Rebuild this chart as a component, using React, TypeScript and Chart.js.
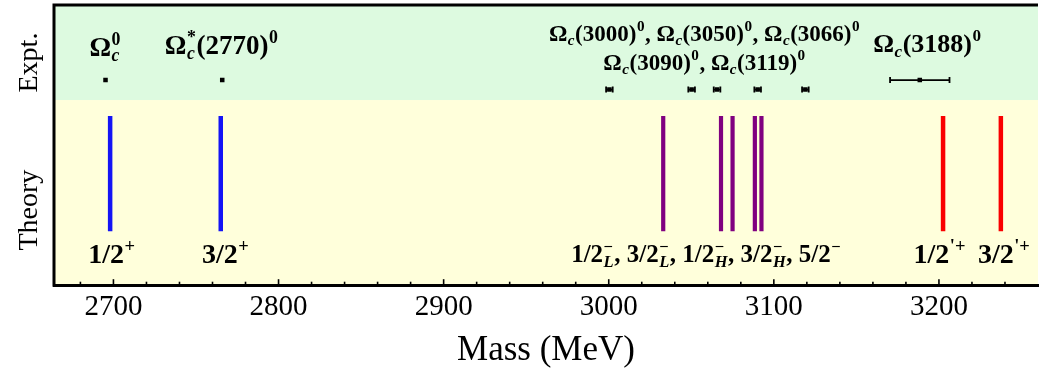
import React, { useEffect, useRef } from 'react';
import { Chart, registerables } from 'chart.js';

Chart.register(...registerables);

// ---------- data ----------
const xMin = 2664;
const xMax = 3260;
const yMin = 0;
const yMax = 28;
const tickValues = [2680, 2700, 2720, 2740, 2760, 2780, 2800, 2820, 2840, 2860, 2880, 2900, 2920, 2940, 2960, 2980, 3000, 3020, 3040, 3060, 3080, 3100, 3120, 3140, 3160, 3180, 3200, 3220, 3240];

// experimental masses (MeV), errors, row level
const exptMass = [2695.2, 2765.9, 3000.4, 3050.2, 3065.6, 3090.2, 3119.1, 3188.4];
const exptErr = [0, 0, 2, 2, 2, 2, 2, 18];
const exptRow = [20.5, 20.5, 19.55, 19.55, 19.55, 19.55, 19.55, 20.5];

// theory masses (MeV)
const theory1S = [2698, 2765];
const theory1P = [3033, 3068, 3075, 3088.5, 3092.5];
const theory2S = [3202.5, 3237.5];
const theoryLow = 5.4;
const theoryHigh = 16.9;
const bandSplit = 18.5;

type Part = { t?: string; sub?: string; sup?: string };
type Label = { x: number; y: number; size: number; parts: Part[] };

const exptLabels: Label[] = [
  { x: 2695, y: 23.8, size: 27, parts: [{ t: 'Ω' }, { sub: 'c', sup: '0' }] },
  { x: 2765.5, y: 24.0, size: 27, parts: [{ t: 'Ω' }, { sub: 'c', sup: '*' }, { t: '(2770)' }, { sup: '0' }] },
  {
    x: 3058, y: 25.2, size: 23,
    parts: [{ t: 'Ω' }, { sub: 'c' }, { t: '(3000)' }, { sup: '0' }, { t: ', Ω' }, { sub: 'c' }, { t: '(3050)' }, { sup: '0' }, { t: ', Ω' }, { sub: 'c' }, { t: '(3066)' }, { sup: '0' }],
  },
  {
    x: 3058, y: 22.3, size: 23,
    parts: [{ t: 'Ω' }, { sub: 'c' }, { t: '(3090)' }, { sup: '0' }, { t: ', Ω' }, { sub: 'c' }, { t: '(3119)' }, { sup: '0' }],
  },
  { x: 3193, y: 24.2, size: 26, parts: [{ t: 'Ω' }, { sub: 'c' }, { t: '(3188)' }, { sup: '0' }] },
];

const theoryLabels: Label[] = [
  { x: 2699, y: 3.1, size: 28, parts: [{ t: '1/2' }, { sup: '+' }] },
  { x: 2768, y: 3.1, size: 28, parts: [{ t: '3/2' }, { sup: '+' }] },
  {
    x: 3059, y: 3.1, size: 25,
    parts: [{ t: '1/2' }, { sub: 'L', sup: '−' }, { t: ', 3/2' }, { sub: 'L', sup: '−' }, { t: ', 1/2' }, { sub: 'H', sup: '−' }, { t: ', 3/2' }, { sub: 'H', sup: '−' }, { t: ', 5/2' }, { sup: '−' }],
  },
  { x: 3200.5, y: 3.1, size: 28, parts: [{ t: '1/2' }, { sup: "'+" }] },
  { x: 3239.5, y: 3.1, size: 28, parts: [{ t: '3/2' }, { sup: "'+" }] },
];

const rowLabels = [
  { text: 'Expt.', y: 22.25 },
  { text: 'Theory', y: 7.5 },
];

// ---------- helpers ----------
const FAMILY = '"Liberation Serif", "Times New Roman", serif';

function segs(masses: number[]) {
  const out: { x: number; y: number | null }[] = [];
  masses.forEach((m) => {
    out.push({ x: m, y: theoryLow }, { x: m, y: theoryHigh }, { x: m, y: null });
  });
  return out;
}

function drawRich(ctx: CanvasRenderingContext2D, parts: Part[], cx: number, cy: number, size: number) {
  const mainFont = `bold ${size}px ${FAMILY}`;
  const ss = size * 0.66;
  const supFont = `bold ${ss}px ${FAMILY}`;
  const subFont = `italic bold ${ss}px ${FAMILY}`;
  const widths: number[] = [];
  parts.forEach((p) => {
    if (p.t !== undefined) {
      ctx.font = mainFont;
      widths.push(ctx.measureText(p.t).width);
    } else {
      let w = 0;
      if (p.sub) { ctx.font = subFont; w = Math.max(w, ctx.measureText(p.sub).width); }
      if (p.sup) { ctx.font = supFont; w = Math.max(w, ctx.measureText(p.sup).width); }
      widths.push(w + 1);
    }
  });
  const total = widths.reduce((a, b) => a + b, 0);
  let x = cx - total / 2;
  const base = cy + size * 0.33;
  ctx.textBaseline = 'alphabetic';
  ctx.textAlign = 'left';
  ctx.fillStyle = '#000';
  parts.forEach((p, i) => {
    if (p.t !== undefined) {
      ctx.font = mainFont;
      ctx.fillText(p.t, x, base);
    } else {
      if (p.sup) { ctx.font = supFont; ctx.fillText(p.sup, x + 0.5, base - size * 0.42); }
      if (p.sub) { ctx.font = subFont; ctx.fillText(p.sub, x + 0.5, base + size * 0.2); }
    }
    x += widths[i];
  });
}

const decorPlugin = {
  id: 'decor',
  beforeDraw(chart: any) {
    const { ctx, chartArea: a, scales } = chart;
    const ys = scales.y;
    const split = ys.getPixelForValue(bandSplit);
    ctx.save();
    ctx.fillStyle = 'rgb(221,250,224)';
    ctx.fillRect(a.left, a.top, a.right - a.left, split - a.top);
    ctx.fillStyle = 'rgb(255,255,219)';
    ctx.fillRect(a.left, split, a.right - a.left, a.bottom - split);
    ctx.restore();
  },
  afterDraw(chart: any) {
    const { ctx, chartArea: a, scales } = chart;
    const xs = scales.x;
    const ys = scales.y;
    ctx.save();
    // error bars
    ctx.strokeStyle = '#000';
    ctx.lineWidth = 1.8;
    exptMass.forEach((m, i) => {
      const e = exptErr[i];
      if (!e) return;
      const y = ys.getPixelForValue(exptRow[i]);
      const x1 = xs.getPixelForValue(m - e);
      const x2 = xs.getPixelForValue(m + e);
      ctx.beginPath();
      ctx.moveTo(x1, y); ctx.lineTo(x2, y);
      ctx.moveTo(x1, y - 3); ctx.lineTo(x1, y + 3);
      ctx.moveTo(x2, y - 3); ctx.lineTo(x2, y + 3);
      ctx.stroke();
    });
    // frame
    ctx.strokeStyle = '#000';
    ctx.lineWidth = 3;
    ctx.beginPath();
    ctx.moveTo(a.left, a.bottom + 1.5);
    ctx.lineTo(a.left, a.top);
    ctx.lineTo(a.right, a.top);
    ctx.stroke();
    // inward ticks
    ctx.lineWidth = 1.6;
    tickValues.forEach((v) => {
      const x = xs.getPixelForValue(v);
      const len = v % 100 === 0 ? 6 : 3.5;
      ctx.beginPath();
      ctx.moveTo(x, a.bottom);
      ctx.lineTo(x, a.bottom - len);
      ctx.stroke();
    });
    // labels
    [...exptLabels, ...theoryLabels].forEach((l) => {
      drawRich(ctx, l.parts, xs.getPixelForValue(l.x), ys.getPixelForValue(l.y), l.size);
    });
    // row labels
    ctx.font = `28px ${FAMILY}`;
    ctx.fillStyle = '#000';
    ctx.textAlign = 'center';
    ctx.textBaseline = 'middle';
    rowLabels.forEach((r) => {
      ctx.save();
      ctx.translate(30, ys.getPixelForValue(r.y));
      ctx.rotate(-Math.PI / 2);
      ctx.fillText(r.text, 0, 0);
      ctx.restore();
    });
    ctx.restore();
  },
};

export default function App() {
  const ref = useRef<HTMLCanvasElement | null>(null);
  useEffect(() => {
    if (!ref.current) return;
    const chart = new Chart(ref.current, {
      type: 'scatter',
      data: {
        datasets: [
          {
            data: exptMass.map((m, i) => ({ x: m, y: exptRow[i] })),
            pointStyle: 'rect',
            pointRadius: 3.2,
            backgroundColor: '#000',
            borderColor: '#000',
            borderWidth: 0,
            showLine: false,
          },
          {
            data: segs(theory1S) as any,
            showLine: true,
            spanGaps: false,
            borderColor: 'rgb(20,20,245)',
            borderWidth: 4.5,
            pointRadius: 0,
            borderCapStyle: 'butt',
          },
          {
            data: segs(theory1P) as any,
            showLine: true,
            spanGaps: false,
            borderColor: 'rgb(128,0,128)',
            borderWidth: 4.2,
            pointRadius: 0,
            borderCapStyle: 'butt',
          },
          {
            data: segs(theory2S) as any,
            showLine: true,
            spanGaps: false,
            borderColor: 'rgb(250,0,0)',
            borderWidth: 4.5,
            pointRadius: 0,
            borderCapStyle: 'butt',
          },
        ],
      },
      options: {
        responsive: false,
        animation: false,
        events: [],
        layout: { padding: { left: 54, right: 0, top: 5, bottom: 0 } },
        plugins: { legend: { display: false }, tooltip: { enabled: false } },
        scales: {
          x: {
            type: 'linear',
            min: xMin,
            max: xMax,
            afterBuildTicks: (s: any) => {
              s.ticks = tickValues.map((v) => ({ value: v }));
            },
            grid: { display: false, drawTicks: false },
            border: { display: true, color: '#000', width: 3 },
            ticks: {
              autoSkip: false,
              maxRotation: 0,
              padding: 5,
              color: '#000',
              font: { family: FAMILY, size: 29 },
              callback: (v: any) => (Number(v) % 100 === 0 ? String(v) : ''),
            },
            title: {
              display: true,
              text: 'Mass (MeV)',
              color: '#000',
              font: { family: FAMILY, size: 35 },
              padding: { top: 0, bottom: 0 },
            },
          },
          y: { type: 'linear', min: yMin, max: yMax, display: false },
        },
      },
      plugins: [decorPlugin],
    });
    return () => chart.destroy();
  }, []);
  return (
    <div style={{ position: 'absolute', left: 0, top: 0, width: 1042, height: 372, background: '#fff' }}>
      <canvas ref={ref} width={1042} height={372} style={{ display: 'block' }} />
    </div>
  );
}
